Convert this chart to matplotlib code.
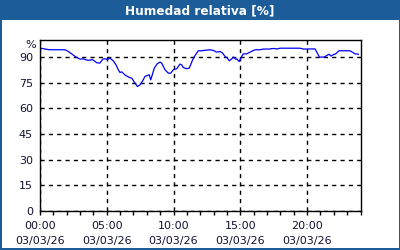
import matplotlib
matplotlib.use("Agg")
import matplotlib.pyplot as plt
from matplotlib.patches import Rectangle
import numpy as np

title = "Humedad relativa [%]"
hours = [0.07, 0.37, 0.75, 1.87, 2.12, 2.37, 2.70, 3.00, 3.24, 3.50, 3.74, 3.92,
         4.25, 4.49, 4.70, 4.87, 5.04, 5.24, 5.49, 5.69, 5.86, 5.99, 6.12, 6.37,
         6.69, 6.87, 7.11, 7.29, 7.49, 7.69, 7.86, 8.18, 8.29, 8.41, 8.56, 8.78,
         8.99, 9.11, 9.36, 9.61, 9.79, 9.98, 10.24, 10.48, 10.61, 10.73, 10.99,
         11.18, 11.43, 11.61, 11.85, 12.11, 12.36, 12.73, 12.98, 13.23, 13.48,
         13.68, 13.85, 14.03, 14.18, 14.36, 14.47, 14.65, 14.73, 14.92, 15.10,
         15.22, 15.48, 15.73, 16.10, 16.47, 16.72, 17.22, 17.35, 17.60, 17.72,
         17.97, 18.72, 19.47, 19.72, 20.59, 20.77, 20.92, 21.27, 21.47, 21.64,
         21.79, 21.96, 22.14, 22.39, 23.21, 23.39, 23.59, 23.84]
humidity = [95.2, 94.7, 94.3, 94.3, 93.3, 91.9, 90.0, 88.8, 89.0, 88.2, 88.2, 88.6,
            86.7, 86.5, 88.8, 89.0, 88.6, 89.4, 87.8, 85.5, 82.6, 81.0, 81.4, 79.5,
            78.1, 77.7, 74.8, 72.8, 73.8, 76.1, 78.7, 79.7, 76.7, 79.7, 83.6, 86.1,
            87.1, 86.5, 82.6, 80.6, 80.6, 82.6, 83.2, 85.9, 85.5, 83.9, 83.2,
            83.6, 88.4, 90.9, 93.7, 93.7, 94.0, 94.3, 93.9, 92.9, 93.3,
            92.3, 90.4, 89.4, 87.8, 89.0, 90.0, 88.8, 89.0, 87.4, 90.4,
            91.9, 91.9, 92.9, 94.3, 94.3, 94.7, 94.7, 95.0, 95.0, 94.7,
            95.2, 95.2, 95.2, 94.7, 94.8, 92.3, 90.0, 90.0, 90.9, 91.7,
            90.6, 91.4, 91.9, 93.7, 93.7, 92.9, 91.9, 91.7]
x_ticks = [0, 5, 10, 15, 20]
x_labels = ["00:00\n03/03/26", "05:00\n03/03/26", "10:00\n03/03/26",
            "15:00\n03/03/26", "20:00\n03/03/26"]
y_ticks = [0, 15, 30, 45, 60, 75, 90]

BLUE = "#1c5c98"
TXT = "#111133"

fig = plt.figure(figsize=(4, 2.5), dpi=100)
fig.patch.set_facecolor("white")
# title bar and border
fig.add_artist(Rectangle((0, 1 - 20 / 250), 1, 20 / 250, transform=fig.transFigure,
                         facecolor=BLUE, edgecolor="none", zorder=0))
fig.add_artist(Rectangle((0, 0), 1.8 / 400, 1, transform=fig.transFigure,
                         facecolor=BLUE, edgecolor="none"))
fig.add_artist(Rectangle((1 - 1.5 / 400, 0), 1.5 / 400, 1, transform=fig.transFigure,
                         facecolor=BLUE, edgecolor="none"))
fig.add_artist(Rectangle((0, 0), 1, 1.8 / 250, transform=fig.transFigure,
                         facecolor=BLUE, edgecolor="none"))
fig.text(0.5, 1 - 10.5 / 250, title, color="white", fontsize=8.7, fontweight="bold",
         ha="center", va="center")

ax = fig.add_axes([40 / 400, (250 - 211) / 250, 320.5 / 400, 171 / 250])
ax.plot(hours, humidity, color="#0000ff", lw=0.9)
ax.set_xlim(0, 24)
ax.set_ylim(0, 100)
ax.set_xticks(x_ticks)
ax.set_xticklabels(x_labels, fontsize=8, color=TXT, linespacing=1.6)
ax.set_xticks(np.arange(0, 25, 1), minor=True)
ax.set_yticks(y_ticks)
ax.set_yticklabels([str(v) for v in y_ticks], fontsize=8, color=TXT)
ax.tick_params(axis="x", which="both", direction="out", length=3, width=1,
               color="black", pad=4)
ax.tick_params(axis="y", length=0, pad=5)
ax.grid(True, which="major", color="black", linestyle=(0, (3, 3)), lw=1)
for s in ax.spines.values():
    s.set_color("black")
    s.set_linewidth(1)
ax.text(-0.028, 0.968, "%", transform=ax.transAxes, fontsize=8, color=TXT,
        ha="center", va="center")

fig.savefig("out.png", dpi=100)
